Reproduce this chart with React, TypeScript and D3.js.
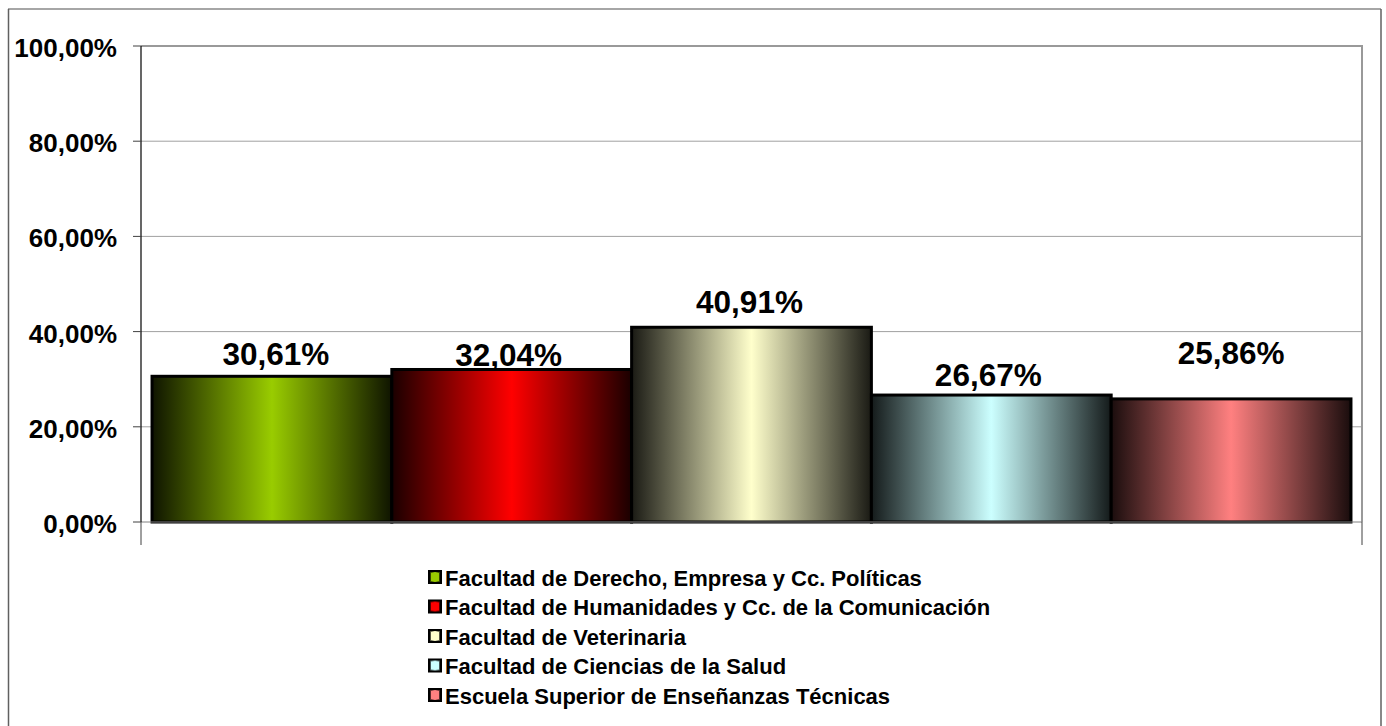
import React from "react";
import * as d3 from "d3";

const series = [
  "Facultad de Derecho, Empresa y Cc. Políticas",
  "Facultad de Humanidades y Cc. de la Comunicación",
  "Facultad de Veterinaria",
  "Facultad de Ciencias de la Salud",
  "Escuela Superior de Enseñanzas Técnicas",
];
const values = [0.3061, 0.3204, 0.4091, 0.2667, 0.2586];
const valueLabels = ["30,61%", "32,04%", "40,91%", "26,67%", "25,86%"];
const colors = ["#99CC00", "#FF0000", "#FFFFCC", "#CCFFFF", "#FF8080"];
const yTicks = [0, 0.2, 0.4, 0.6, 0.8, 1];
const yTickLabels = ["0,00%", "20,00%", "40,00%", "60,00%", "80,00%", "100,00%"];

// manual label placement (layout only)
const labelDx = [4, -3, -2, -3, 0];
const labelDy = [-22, -14, -25, -20, -46];

const FONT = "Arial, 'Liberation Sans', Helvetica, sans-serif";

export default function App() {
  const W = 1386;
  const H = 726;
  const left = 141;
  const right = 1362;
  const top = 46;
  const bottom = 522;

  const x = d3
    .scaleBand<string>()
    .domain(series)
    .range([left, right])
    .paddingInner(0)
    .paddingOuter(0.046);
  const y = d3.scaleLinear().domain([0, 1]).range([bottom, top]);

  const dark = (c: string) => d3.interpolateRgb("#000000", c)(0.1);

  return (
    <svg
      width={W}
      height={H}
      style={{ position: "absolute", left: 0, top: 0, background: "#fff" }}
      fontFamily={FONT}
    >
      <defs>
        {colors.map((c, i) => (
          <linearGradient key={i} id={`g${i}`} x1="0" x2="1" y1="0" y2="0">
            <stop offset="0" stopColor={dark(c)} />
            <stop offset="0.5" stopColor={c} />
            <stop offset="1" stopColor={dark(c)} />
          </linearGradient>
        ))}
      </defs>

      {/* outer chart border */}
      <line x1={8} x2={1381} y1={9} y2={9} stroke="#a6a6a6" strokeWidth={2} />
      <line x1={8.5} x2={8.5} y1={9} y2={726} stroke="#606060" strokeWidth={1.5} />
      <line x1={1381} x2={1381} y1={9} y2={726} stroke="#606060" strokeWidth={1.5} />

      {/* gridlines */}
      {yTicks.slice(1, -1).map((t, i) => (
        <line
          key={i}
          x1={left}
          x2={right}
          y1={y(t)}
          y2={y(t)}
          stroke="#a0a0a0"
          strokeWidth={1}
        />
      ))}
      {/* plot frame top & right */}
      <line x1={left} x2={right + 1} y1={y(1)} y2={y(1)} stroke="#999999" strokeWidth={2} />
      <line x1={right} x2={right} y1={y(1)} y2={bottom} stroke="#999999" strokeWidth={2} />

      {/* bars */}
      {series.map((s, i) => (
        <rect
          key={s}
          x={x(s)!}
          y={y(values[i])}
          width={x.bandwidth()}
          height={bottom - y(values[i])}
          fill={`url(#g${i})`}
          stroke="#000"
          strokeWidth={3}
        />
      ))}

      {/* x axis */}
      <line x1={left} x2={right} y1={bottom} y2={bottom} stroke="#808080" strokeWidth={1} />
      <line x1={left} x2={left} y1={bottom} y2={545} stroke="#404040" strokeWidth={1} />
      <line x1={right} x2={right} y1={bottom} y2={545} stroke="#404040" strokeWidth={1} />

      {/* y axis */}
      <line x1={left} x2={left} y1={top} y2={bottom} stroke="#000" strokeWidth={1.2} />
      {yTicks.map((t, i) => (
        <g key={i}>
          <line x1={133} x2={left} y1={y(t)} y2={y(t)} stroke="#404040" strokeWidth={1} />
          <text
            x={117}
            y={y(t) + 2}
            textAnchor="end"
            dominantBaseline="central"
            fontSize={26}
            fontWeight="bold"
            fill="#000"
          >
            {yTickLabels[i]}
          </text>
        </g>
      ))}

      {/* value labels */}
      {series.map((s, i) => (
        <text
          key={s}
          x={x(s)! + x.bandwidth() / 2 + labelDx[i]}
          y={y(values[i]) + labelDy[i]}
          textAnchor="middle"
          dominantBaseline="central"
          fontSize={31.5}
          fontWeight="bold"
          fill="#000"
        >
          {valueLabels[i]}
        </text>
      ))}

      {/* legend */}
      {series.map((s, i) => {
        const cy = 577 + i * 29.5;
        return (
          <g key={s}>
            <rect
              x={429}
              y={cy - 6}
              width={12}
              height={12}
              fill={`url(#g${i})`}
              stroke="#000"
              strokeWidth={2}
            />
            <rect x={431} y={cy - 4} width={8} height={8} fill={colors[i]} />
            <text
              x={445}
              y={cy + 1}
              dominantBaseline="central"
              fontSize={22}
              fontWeight="bold"
              fill="#000"
            >
              {s}
            </text>
          </g>
        );
      })}
    </svg>
  );
}
